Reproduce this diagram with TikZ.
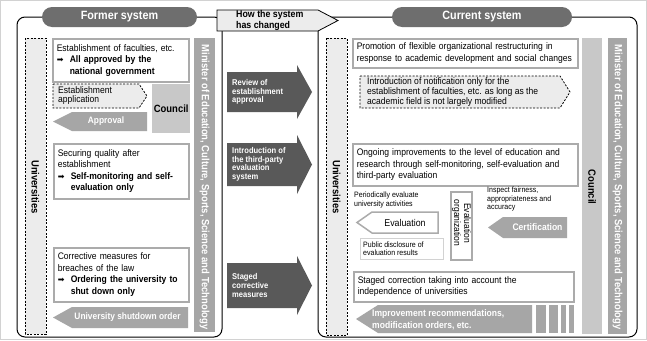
\documentclass[tikz,border=0pt]{standalone}
\usepackage{fontspec}
\setmainfont{Liberation Sans}[FakeStretch=0.9]
\newfontfamily\symf{DejaVu Sans}
\definecolor{dk}{HTML}{595959}
\definecolor{pillc}{HTML}{6E6E6E}
\definecolor{midg}{HTML}{A6A6A6}
\definecolor{cou}{HTML}{C8C8C8}
\definecolor{lt}{HTML}{ECECEC}
\definecolor{bd}{HTML}{ABABAB}
\newcommand\arr{\makebox[13pt][l]{\symf\fontsize{8}{8}\selectfont ➡}}
\newcommand\ind{\hspace*{13pt}}
\tikzset{
  panel/.style={draw=black, line width=1pt, rounded corners=8pt},
  pillnode/.style={fill=pillc, rounded corners=10pt, text=white, font=\bfseries\fontsize{12}{12}\selectfont, inner sep=0pt},
  tbox/.style={draw=bd, line width=1.5pt, fill=white, inner xsep=4pt, inner ysep=0pt, align=left, anchor=north west, font=\fontsize{9.5}{11.5}\selectfont},
  dbox/.style={draw=black, dash pattern=on 2pt off 1.5pt, line width=0.8pt, fill=lt},
  wtxt/.style={text=white, inner sep=0pt, align=left, font=\bfseries\fontsize{9.3}{10}\selectfont},
  mtxt/.style={text=white, inner sep=0pt, align=left, anchor=west, font=\bfseries\fontsize{8.4}{8.6}\selectfont},
  vtxt/.style={rotate=-90, inner sep=0pt, font=\bfseries\fontsize{10.5}{10.5}\selectfont},
  stxt/.style={inner sep=0pt, align=left, anchor=west, font=\fontsize{7.8}{8.2}\selectfont},
  rtxt/.style={inner sep=0pt, align=left, anchor=west, font=\fontsize{9.5}{10}\selectfont}
}
\begin{document}
\begin{tikzpicture}[x=1pt,y=-1pt]
\useasboundingbox (0,0) rectangle (647,340);
\fill[white] (0,0) rectangle (647,340);
\draw[gray!35, line width=1pt] (0.5,0.5) rectangle (646.5,339.5);

% panels
\draw[panel] (17,17) rectangle (222,337);
\draw[panel] (318,17) rectangle (637,337);

% headers
\node[pillnode, minimum width=155, minimum height=20] (fs) at (119.5,17) {Former system};
\node[pillnode, minimum width=180, minimum height=20] (cs) at (482,17) {Current system};
\draw[fill=lt, line width=0.8pt] (217,10) -- (318,10) -- (338,20.5) -- (318,31) -- (217,31) -- cycle;
\node[inner sep=0pt, align=left, anchor=west, font=\bfseries\fontsize{9.8}{8.5}\selectfont] (how) at (236,20.5) {How the system\\has changed};

% ---------- left panel
\draw[dbox] (25,38) rectangle (46,334);
\node[vtxt] (uniL) at (35.5,187) {Universities};
\fill[midg] (194,38) rectangle (215,332);
\node[vtxt, text=white] (minL) at (204.5,187) {Minister of Education, Culture, Sports, Science and Technology};

\node[tbox, minimum width=136, minimum height=43, text width=128] (b1) at (52,38)
 {Establishment of faculties, etc.\\\arr\textbf{All approved by the}\\\ind\textbf{national government}};

\draw[dbox] (53,84) -- (139,84) -- (147,96) -- (139,108) -- (53,108) -- cycle;
\node[inner sep=0pt, align=left, anchor=west, font=\fontsize{9.5}{9}\selectfont] (eapp) at (58,96) {Establishment\\application};
\node[fill=cou, minimum width=38, minimum height=49, anchor=north west, inner sep=0pt, font=\bfseries\fontsize{10.5}{10.5}\selectfont] (couL) at (152,84) {Council};

\fill[midg] (72,112) -- (147,112) -- (147,131) -- (72,131) -- (53,121.5) -- cycle;
\node[wtxt] (appr) at (106,121.5) {Approval};

\node[tbox, minimum width=135, minimum height=55, text width=127] (b2) at (53,143)
 {Securing quality after\\establishment\\\arr\textbf{Self-monitoring and self-}\\\ind\textbf{evaluation only}};

\node[tbox, minimum width=135, minimum height=54, text width=127] (b3) at (53,247)
 {Corrective measures for\\breaches of the law\\\arr\textbf{Ordering the university to}\\\ind\textbf{shut down only}};

\fill[midg] (72,307) -- (188,307) -- (188,328) -- (72,328) -- (53,317.5) -- cycle;
\node[wtxt] (shut) at (127.5,317.5) {University shutdown order};

% ---------- middle arrows
\fill[dk] (227,72) -- (297,72) -- (297,65) -- (312,92) -- (297,119) -- (297,112) -- (227,112) -- cycle;
\node[mtxt] (m1) at (232,92) {Review of\\establishment\\approval};
\fill[dk] (227,143) -- (297,143) -- (297,135) -- (312,164.5) -- (297,194) -- (297,186) -- (227,186) -- cycle;
\node[mtxt] (m2) at (232,164.5) {Introduction of\\the third-party\\evaluation\\system};
\fill[dk] (227,263) -- (297,263) -- (297,256) -- (312,285.5) -- (297,315) -- (297,308) -- (227,308) -- cycle;
\node[mtxt] (m3) at (232,285.5) {Staged\\corrective\\measures};

% ---------- right panel
\draw[dbox] (326,38) rectangle (347,335);
\node[vtxt] (uniR) at (336.5,187) {Universities};
\fill[cou] (582,38) rectangle (602,334);
\node[vtxt] (couR) at (592,187) {Council};
\fill[midg] (608,38) rectangle (627,334);
\node[vtxt, text=white] (minR) at (617.5,187) {Minister of Education, Culture, Sports, Science and Technology};

\node[tbox, minimum width=225, minimum height=29, text width=217] (r1) at (352,38)
 {Promotion of flexible organizational restructuring in\\response to academic development and social changes};

\draw[dbox] (360,76) -- (560,76) -- (570,92) -- (560,108) -- (360,108) -- cycle;
\node[rtxt] (notif) at (367,92) {Introduction of notification only for the\\establishment of faculties, etc. as long as the\\academic field is not largely modified};

\node[tbox, minimum width=225, minimum height=42, text width=217] (r2) at (352,143)
 {Ongoing improvements to the level of education and\\research through self-monitoring, self-evaluation and\\third-party evaluation};

\node[stxt] (peri) at (354,200) {Periodically evaluate\\university activities};
\draw[draw=bd, line width=1.5pt, fill=white] (372,212) -- (438,212) -- (438,233) -- (372,233) -- (357,222.5) -- cycle;
\node[inner sep=0pt, font=\fontsize{9.8}{9.8}\selectfont] (eval) at (405,222.5) {Evaluation};

\draw[gray!35, line width=0.8pt, fill=white] (360,238) rectangle (443,259);
\node[stxt] (pub) at (363,248.5) {Public disclosure of\\evaluation results};

\draw[draw=bd, line width=1.5pt, fill=white] (451,192) rectangle (472,260);
\node[rotate=-90, inner sep=0pt, align=center, font=\fontsize{9.5}{10}\selectfont] (eorg) at (461.5,223) {Evaluation\\organization};

\node[stxt] (insp) at (487,199) {Inspect fairness,\\appropriateness and\\accuracy};
\fill[midg] (503,217) -- (567,217) -- (567,238) -- (503,238) -- (488,227.5) -- cycle;
\node[wtxt, font=\bfseries\fontsize{9.5}{9.5}\selectfont] (cert) at (537.5,227.5) {Certification};

\node[tbox, minimum width=220, minimum height=30, text width=212] (r3) at (353,271)
 {Staged correction taking into account the\\independence of universities};

\fill[midg] (378,305) -- (532,305) -- (532,333) -- (378,333) -- (356,319) -- cycle;
\fill[midg] (536,305) rectangle (546,333);
\fill[midg] (549,305) rectangle (558,333);
\fill[midg] (561,305) rectangle (566,333);
\fill[midg] (569,305) rectangle (574,333);
\node[wtxt, anchor=west, font=\bfseries\fontsize{9.5}{12}\selectfont] (impr) at (372,320) {Improvement recommendations,\\modification orders, etc.};
\end{tikzpicture}
\end{document}
